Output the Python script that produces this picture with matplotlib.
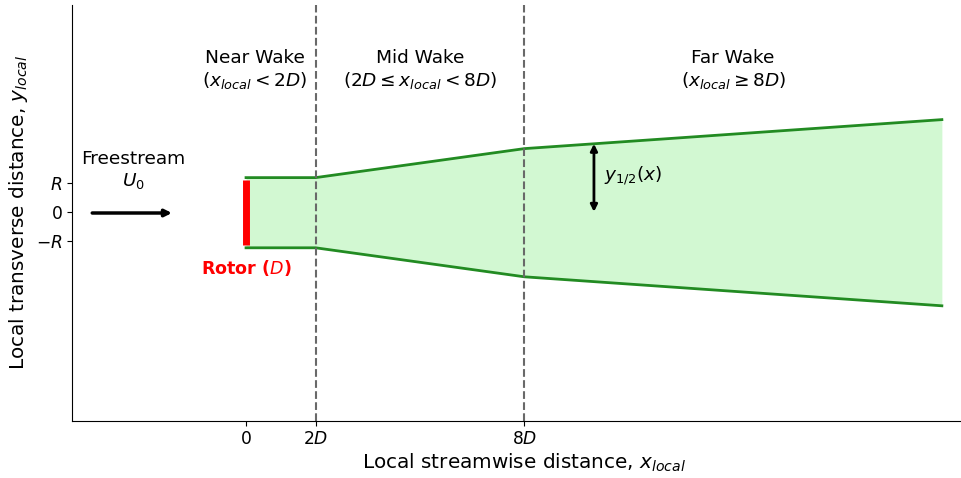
import numpy as np
import matplotlib.pyplot as plt

D = 1.0
R = D / 2

# wake boundary (half-width) at key streamwise stations, in D
wake_x = [0, 2, 8, 20]
wake_top = [0.59, 0.59, 1.09, 1.59]
wake_bot = [-0.62, -0.62, -1.12, -1.62]

region_names = ["Near Wake", "Mid Wake", "Far Wake"]
region_conds = [r"($x_{local} < 2D$)", r"($2D \leq x_{local} < 8D$)", r"($x_{local} \geq 8D$)"]
region_x = [0.26, 5.0, 14.0]

xtick_pos = [0, 2, 8]
xtick_lab = ["0", "$2D$", "$8D$"]
ytick_pos = [-R, 0, R]
ytick_lab = ["$-R$", "0", "$R$"]

fig, ax = plt.subplots(figsize=(9.61, 4.78), dpi=100)

wx = np.array(wake_x) * D
ax.fill_between(wx, np.array(wake_bot) * D, np.array(wake_top) * D, color="lightgreen", alpha=0.4, lw=0)
ax.plot(wx, np.array(wake_top) * D, color="forestgreen", lw=2)
ax.plot(wx, np.array(wake_bot) * D, color="forestgreen", lw=2)

# rotor
ax.plot([0, 0], [-0.57 * D, 0.55 * D], color="red", lw=5, solid_capstyle="butt")
ax.text(0, -0.97 * D, r"Rotor ($D$)", color="red", fontsize=12.6, fontweight="bold", ha="center", va="center")

# region boundaries
for xb in [2, 8]:
    ax.axvline(xb * D, color="dimgray", ls="--", lw=1.5)

for name, cond, xr in zip(region_names, region_conds, region_x):
    ax.text(xr * D, 2.45 * D, name + "\n" + cond, ha="center", va="center", fontsize=13.3)

# freestream
ax.annotate("", xy=(-2.05 * D, -0.02 * D), xytext=(-4.5 * D, -0.02 * D),
            arrowprops=dict(arrowstyle="-|>", color="black", lw=2.5, mutation_scale=10))
ax.text(-3.25 * D, 0.72 * D, "Freestream\n$U_0$", ha="center", va="center", fontsize=13.3)

# half-width
xh = 10 * D
yh = np.interp(xh, wx, np.array(wake_top) * D)
ax.annotate("", xy=(xh, yh), xytext=(xh, 0.0),
            arrowprops=dict(arrowstyle="<|-|>", color="black", lw=2, mutation_scale=10, shrinkA=0, shrinkB=0))
ax.text(xh + 0.3 * D, 0.62 * D, "$y_{1/2}(x)$", fontsize=13.3, ha="left", va="center")

ax.set_xlim(-5 * D, 20.55 * D)
ax.set_ylim(-3.6 * D, 3.57 * D)
ax.set_xticks(xtick_pos, xtick_lab, fontsize=12.3)
ax.set_yticks(ytick_pos, ytick_lab, fontsize=12.3)
ax.set_xlabel("Local streamwise distance, $x_{local}$", fontsize=14.4, labelpad=2)
ax.set_ylabel("Local transverse distance, $y_{local}$", fontsize=14.4)
ax.xaxis.set_label_coords(0.508, -0.075)
ax.spines["top"].set_visible(False)
ax.spines["right"].set_visible(False)

fig.subplots_adjust(left=0.075, right=1.0, top=0.99, bottom=0.12)
fig.savefig("out.png", dpi=100)
